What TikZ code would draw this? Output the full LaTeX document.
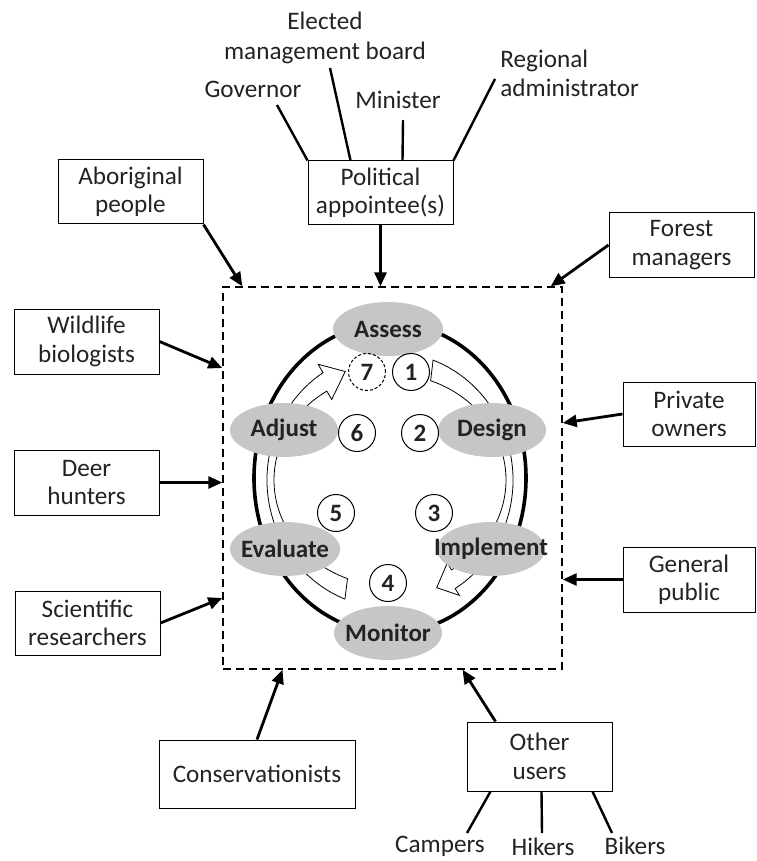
\documentclass[tikz,border=0pt]{standalone}
\usepackage{fontspec}
\setmainfont{Carlito}
\usetikzlibrary{arrows.meta,shapes.geometric,calc}

\definecolor{ink}{RGB}{35,35,35}
\definecolor{stagegray}{RGB}{198,198,198}

\tikzset{
  box/.style={draw, line width=0.5pt, align=center, inner sep=1pt, text=ink,
    font=\fontsize{12.6}{14.2}\selectfont},
  actor/.style={align=center, inner sep=1pt, text=ink,
    font=\fontsize{12.6}{14.6}\selectfont},
  stage/.style={ellipse, fill=stagegray, inner sep=0pt, minimum width=54pt,
    minimum height=27pt, text=ink, font=\fontsize{12.5}{15}\selectfont\bfseries},
  num/.style={circle, draw, line width=0.5pt, minimum size=18.5pt, inner sep=0pt,
    text=ink, font=\fontsize{12.5}{15}\selectfont\bfseries},
  feed/.style={line width=1.4pt, -{Triangle[length=7pt,width=6pt]}},
  tie/.style={line width=1.2pt},
  band/.style={draw, fill=white, line width=0.4pt},
}

\begin{document}
\begin{tikzpicture}[x=0.5pt,y=-0.5pt]
\useasboundingbox (0,0) rectangle (756,861);

% Dashed frame round the loop
\node (frame) at (392.5,478) [draw, line width=0.7pt, dash pattern=on 4pt off 2.5pt,
  minimum width=169.5pt, minimum height=191pt] {};

% Outer loop
\draw[line width=1.8pt] (390,478) ellipse [x radius=136, y radius=155];

% Hollow arrows inside the loop
\begin{scope}[shift={(390,480)}]
  \draw[band] (290.5:123 and 128) arc [start angle=290.5, end angle=418, x radius=123, y radius=128]
    -- (418:131 and 136) -- (427:119.5 and 117) -- (418:108 and 98) -- (418:116 and 106)
    arc [start angle=418, end angle=290.5, x radius=116, y radius=106] -- cycle;
  \draw[band] (111.5:123 and 128) arc [start angle=111.5, end angle=237, x radius=123, y radius=128]
    -- (237:132 and 138) -- (248:119.5 and 117) -- (237:107 and 96) -- (237:116 and 106)
    arc [start angle=237, end angle=111.5, x radius=116, y radius=106] -- cycle;
\end{scope}

% Stages
\node (assess) at (388,329) [stage, minimum width=55pt] {\makebox[0pt]{Assess}};
\node (design) at (492,430) [stage] {\makebox[0pt]{Design}};
\node (implement) at (491,549) [stage] {\makebox[0pt]{Implement}};
\node (monitor) at (388,633) [stage] {\makebox[0pt]{Monitor}};
\node (evaluate) at (285,549) [stage, minimum width=55pt] {\makebox[0pt]{Evaluate}};
\node (adjust) at (284,430) [stage] {\makebox[0pt]{Adjust}};

% Step numbers
\node (n1) at (411,372) [num] {1};
\node (n2) at (420,433) [num] {2};
\node (n3) at (434,513) [num] {3};
\node (n4) at (388,583) [num] {4};
\node (n5) at (336,513) [num] {5};
\node (n6) at (357,433) [num] {6};
\node (n7) at (367,372) [num, dash pattern=on 1.5pt off 1pt] {7};

% Stakeholder boxes
\node (abo) at (130.5,192) [box, minimum width=72.5pt, minimum height=32pt] {Aboriginal\\people};
\node (pol) at (380.5,193) [box, minimum width=72.5pt, minimum height=32pt] {Political\\appointee(s)};
\node (forest) at (681.5,245) [box, minimum width=72.5pt, minimum height=32pt] {Forest\\managers};
\node (wild) at (86.5,341.5) [box, minimum width=72.5pt, minimum height=32.5pt] {Wildlife\\biologists};
\node (deer) at (86.5,482.5) [box, minimum width=72.5pt, minimum height=32.5pt] {Deer\\hunters};
\node (sci) at (87.5,623) [box, minimum width=72.5pt, minimum height=32pt] {Scientific\\researchers};
\node (priv) at (689,414) [box, minimum width=66pt, minimum height=32pt] {Private\\owners};
\node (gen) at (689,579.5) [box, minimum width=66pt, minimum height=32.5pt] {General\\public};
\node (cons) at (257,774) [box, minimum width=98pt, minimum height=34pt] {Conservationists};
\node (other) at (539.5,756.5) [box, minimum width=72.5pt, minimum height=34.5pt] {Other\\users};

% Who names the appointees
\node (gov) at (253,89) [actor] {Governor};
\node (elected) at (325,38) [actor] {Elected\\management board};
\node (minister) at (398,100) [actor] {Minister};
\node (regional) at (498,73) [actor, anchor=west, align=left] {Regional\\administrator};
\coordinate (gov-end) at (277,105);
\coordinate (elect-end) at (330,68);
\coordinate (min-end) at (403,120);
\coordinate (reg-end) at (495,79);
\draw[tie] (pol.north west) -- (gov-end);
\draw[tie] ([xshift=21.5pt]pol.north west) -- (elect-end);
\draw[tie] ([xshift=47.5pt]pol.north west) -- (min-end);
\draw[tie] (pol.north east) -- (reg-end);

% Kinds of other users
\node (campers) at (440,846) [actor] {Campers};
\node (hikers) at (543,847) [actor] {Hikers};
\node (bikers) at (635,846) [actor] {Bikers};
\coordinate (camp-end) at (467,833);
\coordinate (hike-end) at (542,833);
\coordinate (bike-end) at (612,833);
\draw[tie] ([xshift=12pt]other.south west) -- (camp-end);
\draw[tie] ([xshift=1pt]other.south) -- (hike-end);
\draw[tie] ([xshift=-10pt]other.south east) -- (bike-end);

% Inputs to the loop
\draw[feed] (abo.south east) -- ([xshift=10pt]frame.north west);
\draw[feed] (pol.south) -- (pol.south |- frame.north);
\draw[feed] (forest.west) -- ([xshift=-6pt]frame.north east);
\draw[feed] (wild.east) -- ([yshift=55pt]frame.west);
\draw[feed] (deer.east) -- (deer.east -| frame.west);
\draw[feed] (sci.east) -- ([yshift=-60pt]frame.west);
\draw[feed] (priv.west) -- ([yshift=27.5pt]frame.east);
\draw[feed] (gen.west) -- (gen.west -| frame.east);
\draw[feed] (cons.north) -- ([xshift=-55pt]frame.south);
\draw[feed] ([xshift=-22pt]other.north) -- ([xshift=35pt]frame.south);
\end{tikzpicture}
\end{document}
